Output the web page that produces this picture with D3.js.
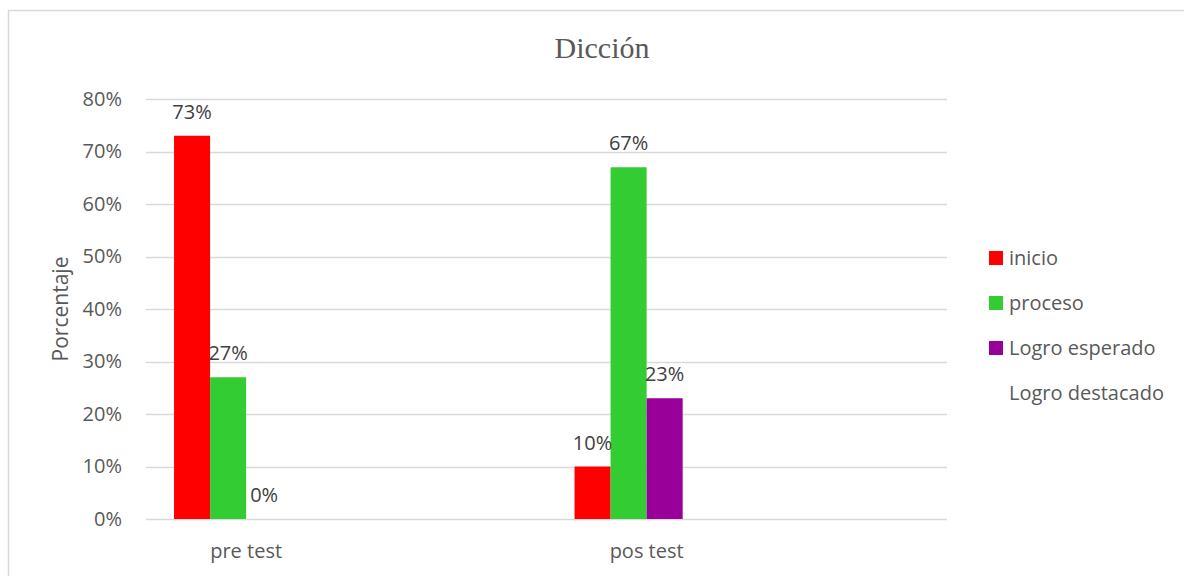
<!DOCTYPE html>
<html>
<head>
    <meta charset="utf-8">
    <title>Dicción</title>
    <script src="https://d3js.org/d3.v7.min.js"></script>
    <style>
        body { margin: 0; background: #fff; }
        svg { font-family: "Open Sans"; }
    </style>
</head>
<body>
<script>

// the original sheet has two empty category slots
var categories = ["pre test", "", "pos test", ""];
var seriesNames = ["inicio", "proceso", "Logro esperado", "Logro destacado"];
var inicio = [0.73, null, 0.10, null];
var proceso = [0.27, null, 0.67, null];
var logroEsperado = [0.00, null, 0.23, null];
var logroDestacado = [null, null, null, null];
var yTicks = [0, 0.1, 0.2, 0.3, 0.4, 0.5, 0.6, 0.7, 0.8];

var seriesValues = [inicio, proceso, logroEsperado, logroDestacado];
var colors = ["#ff0000", "#33cc33", "#990099", "#ffffff"];

var width = 1184, height = 576;
var margin = { top: 99, left: 146, right: 237, bottom: 57 };
var innerW = width - margin.left - margin.right;
var innerH = height - margin.top - margin.bottom;

var svg = d3.select("body").append("svg")
    .attr("width", width)
    .attr("height", height);

// chart border (only left and top show inside the window)
svg.append("rect")
    .attr("x", 8.5).attr("y", 10.5)
    .attr("width", 1200).attr("height", 620)
    .attr("fill", "none")
    .attr("stroke", "#d9d9d9")
    .attr("stroke-width", 1.5);

svg.append("text")
    .attr("x", 602).attr("y", 58)
    .attr("text-anchor", "middle")
    .attr("font-family", "Liberation Serif")
    .attr("font-size", 30)
    .attr("fill", "#595959")
    .text("Dicción");

var g = svg.append("g")
    .attr("transform", "translate(" + margin.left + "," + margin.top + ")");

var x0 = d3.scaleBand().domain(d3.range(categories.length)).range([0, innerW]);
var groupW = x0.bandwidth() * 0.72;
var x1 = d3.scaleBand().domain(seriesNames).range([0, groupW]);
var y = d3.scaleLinear().domain([0, 0.8]).range([innerH, 0]);

// gridlines
g.selectAll(".grid")
    .data(yTicks)
    .enter().append("line")
    .attr("x1", 0).attr("x2", innerW)
    .attr("y1", function (d) { return Math.round(y(d)) + 0.5; })
    .attr("y2", function (d) { return Math.round(y(d)) + 0.5; })
    .attr("stroke", "#d9d9d9")
    .attr("stroke-width", 1.5);

// y axis labels
var yAxis = d3.axisLeft(y).tickValues(yTicks).tickFormat(d3.format(".0%")).tickSize(0).tickPadding(24);
var ya = g.append("g").call(yAxis);
ya.select(".domain").remove();
ya.selectAll("text")
    .attr("font-family", "Open Sans")
    .attr("font-size", 20)
    .attr("fill", "#595959");

// x axis labels
var xAxis = d3.axisBottom(x0).tickSize(0).tickPadding(25)
    .tickFormat(function (i) { return categories[i]; });
var xa = g.append("g").attr("transform", "translate(0," + innerH + ")").call(xAxis);
xa.select(".domain").remove();
xa.selectAll("text")
    .attr("font-family", "Open Sans")
    .attr("font-size", 20)
    .attr("fill", "#595959");

// bars
var rows = [];
categories.forEach(function (c, i) {
    seriesNames.forEach(function (s, j) {
        rows.push({ cat: i, series: s, value: seriesValues[j][i], color: colors[j] });
    });
});
var shown = rows.filter(function (d) { return d.value !== null; });

var groupOffset = (x0.bandwidth() - groupW) / 2;

g.selectAll(".bar")
    .data(shown)
    .enter().append("rect")
    .attr("x", function (d) { return x0(d.cat) + groupOffset + x1(d.series); })
    .attr("y", function (d) { return y(d.value); })
    .attr("width", x1.bandwidth())
    .attr("height", function (d) { return innerH - y(d.value); })
    .attr("fill", function (d) { return d.color; });

g.selectAll(".lbl")
    .data(shown)
    .enter().append("text")
    .attr("x", function (d) { return x0(d.cat) + groupOffset + x1(d.series) + x1.bandwidth() / 2; })
    .attr("y", function (d) { return y(d.value) - 17; })
    .attr("text-anchor", "middle")
    .attr("font-size", 20)
    .attr("fill", "#404040")
    .text(function (d) { return d3.format(".0%")(d.value); });

// y axis title
svg.append("text")
    .attr("transform", "translate(68,309) rotate(-90)")
    .attr("text-anchor", "middle")
    .attr("font-size", 21)
    .attr("fill", "#595959")
    .text("Porcentaje");

// legend
var legend = svg.append("g").attr("transform", "translate(989,258)");
var li = legend.selectAll("g")
    .data(seriesNames)
    .enter().append("g")
    .attr("transform", function (d, i) { return "translate(0," + (i * 45) + ")"; });
li.append("rect")
    .attr("x", 0).attr("y", -7)
    .attr("width", 14).attr("height", 14)
    .attr("fill", function (d, i) { return colors[i]; });
li.append("text")
    .attr("x", 20).attr("y", 7)
    .attr("font-size", 20)
    .attr("fill", "#595959")
    .text(function (d) { return d; });

</script>
</body>
</html>
